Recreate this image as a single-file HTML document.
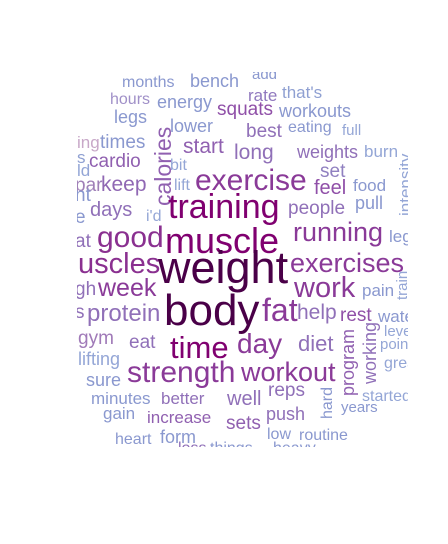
<!DOCTYPE html>
<html><head><meta charset="utf-8">
<style>
html,body{margin:0;padding:0;background:#fff;}
svg{display:block;font-family:"Liberation Sans",Arial,sans-serif;}
</style></head>
<body>
<svg id="cloud" width="448" height="544" viewBox="0 0 448 544">
<defs><clipPath id="clip"><rect x="77" y="72" width="331" height="375"/></clipPath></defs>
<g id="words" clip-path="url(#clip)"></g>
</svg>
<script>
// word, x, baseline y, font size, color, rotated
const words = ["months","bench","add","hours","energy","rate","that's","squats","workouts","legs","eating","full","lower","best","ing","times","start","long","weights","burn","intensity","calories","s","ld","cardio","bit","exercise","set","feel","food","par","keep","lift","pull","nt","people","training","days","i'd","e","good","muscle","running","leg","at","uscles","weight","exercises","gh","week","work","pain","train","s2","protein","body","fat","help","rest","water","level","points","gym","eat","time","day","diet","program","working","great","lifting","strength","workout","sure","minutes","better","well","reps","hard","started","years","gain","increase","sets","push","heart","form","low","routine","loss","things","heavy"];
const xs = [122,190,252,110,157,248,282,217,279,114,288,342,170,246,77,100,183,234,297,364,411,171,77,77,89,170,195,320,314,353,75,101,174,355,75,288,168,90,146,75,97,165,293,389,75,78,158,290,75,98,294,362,407,75,87,164,262,297,340,378,384,380,78,129,170,237,298,354,376,384,78,127,241,86,91,161,227,268,332,362,341,103,147,226,266,115,160,267,299,178,210,273];
const ys = [87,87,79,104,108,101,98,115,117,123,132,135,132,137,148,148,153,159,158,157,216,206,163,176,167,170,190,177,194,191,191,191,190,209,201,214,218,216,221,223,247,253,241,242,247,273,283,272,295,296,297,296,300,318,321,325,321,319,321,322,336,349,344,348,358,353,351,396,384,368,365,382,381,386,404,404,405,396,419,401,412,419,423,429,420,444,443,439,440,453,453,453];
const sizes = [16,18,15,16,18,17,17,19,18,18,16,15,18,19,17,19,21,21,18,17,17,23,17,17,19,16,30,19,20,17,19,21,16,18,19,19,34,20,16,19,30,36,27,17,19,29,45,27,19,25,29,17,15,19,24,44,32,21,19,17,15,15,19,19,31,28,22,18,18,16,18,30,27,18,17,17,20,19,16,16,15,17,17,19,18,16,18,16,16,16,16,16];
const colors = ["#8a98cf","#8a98cf","#8a98cf","#a090c8","#8a98cf","#9078be","#8fa0d2","#9050a8","#8a98cf","#8a98cf","#8a98cf","#94a6d6","#8a98cf","#9070b8","#c8a8c8","#8a98cf","#9060b0","#9070b8","#9070b8","#94a6d6","#94a6d6","#9060b0","#8fa0d2","#94a6d6","#9060b0","#94a6d6","#8a3a98","#9080c0","#9050a8","#8a98cf","#a080b8","#9068b4","#94a6d6","#8a98cf","#8a98cf","#9070b8","#800070","#9070b8","#94a6d6","#8a98cf","#8a3090","#800070","#8a3a98","#8a98cf","#9070b8","#8a3090","#4a0048","#8a3a98","#9070b8","#8a3a98","#8a3a98","#8a98cf","#94a6d6","#9070b8","#9070b8","#4a0048","#8a3a98","#9070b8","#9050a8","#8a98cf","#94a6d6","#94a6d6","#a07ab8","#9070b8","#800070","#8a3a98","#9070b8","#9060b0","#9070b8","#94a6d6","#94a6d6","#8a3a98","#8a3a98","#8a98cf","#8a98cf","#9070b8","#9070b8","#9070b8","#8a98cf","#94a6d6","#8a98cf","#8a98cf","#9060b0","#9060b0","#9070b8","#8a98cf","#8a98cf","#8a98cf","#8a98cf","#9070b8","#8a98cf","#8a98cf"];
const rotated = ["intensity","calories","program","working","hard","train"];

const g = document.getElementById('words');
const NS = "http://www.w3.org/2000/svg";
words.forEach((w, i) => {
  const t = document.createElementNS(NS, 'text');
  const label = w === 's2' ? 's' : w;
  t.textContent = label;
  t.setAttribute('font-size', sizes[i]);
  t.setAttribute('fill', colors[i]);
  if (rotated.includes(w)) {
    t.setAttribute('transform', 'translate(' + xs[i] + ',' + ys[i] + ') rotate(-90)');
  } else {
    t.setAttribute('x', xs[i]);
    t.setAttribute('y', ys[i]);
  }
  
  
  g.appendChild(t);
});
</script>
</body></html>
